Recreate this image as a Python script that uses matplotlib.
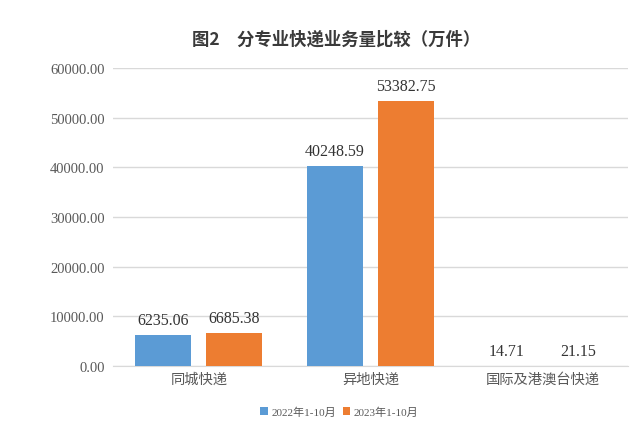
import numpy as np
import matplotlib.pyplot as plt

plt.rcParams['font.family'] = ['Liberation Serif', 'Noto Sans CJK SC', 'DejaVu Sans']

categories = ['同城快递', '异地快递', '国际及港澳台快递']
series_names = ['2022年1-10月', '2023年1-10月']
v2022 = [6235.06, 40248.59, 14.71]
v2023 = [6685.38, 53382.75, 21.15]
colors = ['#5B9BD5', '#ED7D31']

fig = plt.figure(figsize=(6.4, 4.35), dpi=100)
ax = fig.add_axes([0.1766, 0.1563, 0.805, 0.685])

x = np.arange(len(categories))
w = 0.326
off = 0.207
for vals, d, c, name in [(v2022, -off, colors[0], series_names[0]),
                         (v2023, off, colors[1], series_names[1])]:
    bars = ax.bar(x + d, vals, width=w, color=c, label=name, zorder=3)
    for b, v in zip(bars, vals):
        ax.annotate(f'{v:.2f}', (b.get_x() + b.get_width() / 2, b.get_height()),
                    xytext=(0, 5), textcoords='offset points',
                    ha='center', va='bottom', fontsize=11.5, color='#333333',
                    family=['Liberation Serif'])

ax.set_xlim(-0.5, 2.5)
ax.set_ylim(0, 60000)
ax.set_yticks(np.arange(0, 60001, 10000))
ax.set_yticklabels([f'{t:.2f}' for t in np.arange(0, 60001, 10000)],
                   fontsize=10.5, color='#595959')
ax.set_xticks(x)
ax.set_xticklabels(categories, fontsize=10.3, color='#595959',
                   family=['Noto Sans CJK SC'])
ax.tick_params(length=0, pad=6)
ax.tick_params(axis='x', pad=4)
ax.grid(axis='y', color='#d9d9d9', linewidth=1, zorder=0)
for s in ['top', 'right', 'left']:
    ax.spines[s].set_visible(False)
ax.spines['bottom'].set_color('#d9d9d9')

fig.text(0.525, 0.908, '图2　分专业快递业务量比较（万件）', ha='center', va='center',
         fontsize=12.5, fontweight='bold', color='#3a3a3a',
         family=['Noto Sans CJK SC'])

leg = fig.legend(loc='center', bbox_to_anchor=(0.53, 0.051), ncol=2, frameon=False,
                 handlelength=0.7, handleheight=0.7,
                 handletextpad=0.3, columnspacing=0.6,
                 prop={'family': ['Liberation Serif', 'Noto Sans CJK SC'], 'size': 8})
for t in leg.get_texts():
    t.set_color('#595959')

fig.savefig('out.png', dpi=100)
